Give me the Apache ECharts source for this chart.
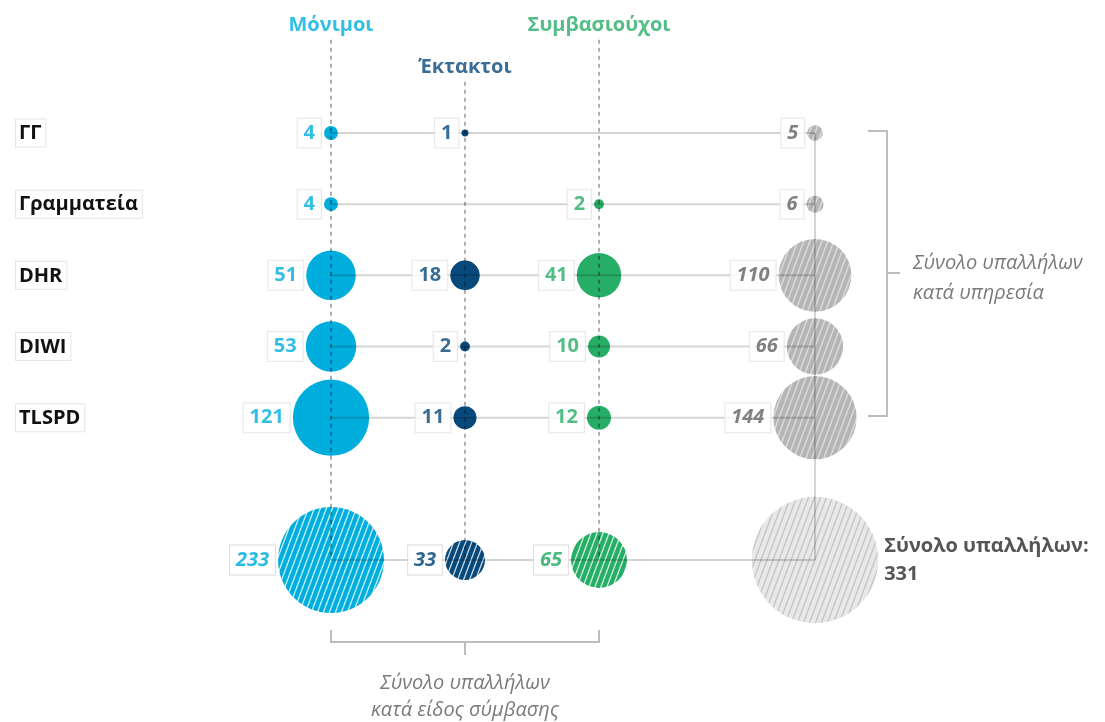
<!DOCTYPE html>
<html>
<head>
<meta charset="utf-8">
<script src="https://cdn.jsdelivr.net/npm/echarts@6/dist/echarts.min.js"></script>
<style>
  html, body { margin: 0; padding: 0; background: #fff; }
  #chart { width: 1105px; height: 722px; }
</style>
</head>
<body>
<div id="chart"></div>
<script>
  var rows = ['ΓΓ', 'Γραμματεία', 'DHR', 'DIWI', 'TLSPD'];
  var types = ['Μόνιμοι', 'Έκτακτοι', 'Συμβασιούχοι'];
  var monimoi = [4, 4, 51, 53, 121];
  var ektaktoi = [1, null, 18, 2, 11];
  var symvasiouxoi = [null, 2, 41, 10, 12];
  var rowTotals = [5, 6, 110, 66, 144];
  var typeTotals = [233, 33, 65];
  var grandTotal = 331;

  var colors = ['#00aede', '#08497b', '#27ae66'];
  var grey = '#a3a3a3';
  var font = "'Open Sans', sans-serif";
  var totalX = 3.612;          // total column sits further right
  var totalRow = 6;            // total row, after an empty gap
  var lineStart = -2.36;       // row lines start under the row names
  var guideTop = [-1.31, -0.72, -1.31];

  function size(v) { return 6.94 * Math.sqrt(v); }

  // diagonal hatch fill, counter-scaled so the symbol scaling doesn't stretch it
  function stripes(bg, fg, v) {
    var w = 6, h = 16;
    var c = document.createElement('canvas');
    c.width = w; c.height = h;
    var ctx = c.getContext('2d');
    ctx.fillStyle = bg;
    ctx.fillRect(0, 0, w, h);
    ctx.strokeStyle = fg;
    ctx.lineWidth = 1.3;
    [-w, 0, w].forEach(function (o) {
      ctx.beginPath(); ctx.moveTo(o, h); ctx.lineTo(o + w, 0); ctx.stroke();
    });
    var s = 2 / size(v);
    return { image: c, repeat: 'repeat', scaleX: s, scaleY: s };
  }

  function boxLabel(color, italic) {
    return {
      show: true, position: 'left', distance: 3,
      formatter: function (p) { return p.value[2]; },
      color: color, fontFamily: font, fontSize: 20, fontWeight: 'bold',
      fontStyle: italic ? 'italic' : 'normal',
      backgroundColor: '#fff', borderColor: '#e2e2e2', borderWidth: 1,
      padding: [4, 6, 3, 6], lineHeight: 22
    };
  }

  var columns = [monimoi, ektaktoi, symvasiouxoi];
  var series = [];

  columns.forEach(function (vals, k) {
    var data = [];
    vals.forEach(function (v, i) {
      if (v != null) data.push({ value: [k, i, v] });
    });
    data.push({ value: [k, totalRow, typeTotals[k]],
      itemStyle: { color: stripes(colors[k], 'rgba(255,255,255,0.8)', typeTotals[k]) },
      label: boxLabel(colors[k], true) });
    series.push({
      name: types[k], type: 'scatter', z: 2, clip: false, silent: true,
      symbolSize: function (d) { return size(d[2]); },
      itemStyle: { color: colors[k], opacity: 1 },
      data: data
    });
    series.push({
      name: types[k] + '-labels', type: 'scatter', z: 5, clip: false, silent: true,
      symbolSize: function (d) { return size(d[2]); },
      itemStyle: { color: 'rgba(0,0,0,0)' },
      label: boxLabel(colors[k], false),
      data: data.map(function (d) { return { value: d.value, label: d.label }; })
    });
  });

  // totals per row + grand total
  var totData = rowTotals.map(function (v, i) { return { value: [totalX, i, v] }; });
  var totItems = rowTotals.map(function (v, i) {
    return { value: [totalX, i, v],
      itemStyle: { color: stripes(grey, 'rgba(255,255,255,0.6)', v) } };
  }).concat([{ value: [totalX, totalRow, grandTotal],
    itemStyle: { color: stripes('#e3e3e3', '#b5b5b5', grandTotal) } }]);
  series.push({
    name: 'Σύνολο', type: 'scatter', z: 2, clip: false, silent: true,
    symbolSize: function (d) { return size(d[2]); },
    data: totItems
  });
  series.push({
    name: 'Σύνολο-labels', type: 'scatter', z: 5, clip: false, silent: true,
    symbolSize: function (d) { return size(d[2]); },
    itemStyle: { color: 'rgba(0,0,0,0)' },
    label: boxLabel('#626262', true),
    data: totData.concat([{ value: [totalX, totalRow, grandTotal],
      label: {
        show: true, position: 'right', distance: 6, align: 'left',
        formatter: 'Σύνολο υπαλλήλων:\n' + grandTotal,
        color: '#2b2b2b', fontFamily: font, fontSize: 20, fontWeight: 'bold',
        fontStyle: 'normal', lineHeight: 28, backgroundColor: 'transparent',
        borderWidth: 0, padding: 0
      } }])
  });

  // connector lines
  function seg(points, style) {
    series.push({
      type: 'line', z: 3, clip: false, silent: true, symbol: 'none',
      lineStyle: style, data: points, animation: false
    });
  }
  var solid = { color: 'rgba(0,0,0,0.17)', width: 2 };
  rows.forEach(function (r, i) { seg([[lineStart, i], [totalX, i]], solid); });
  seg([[0, totalRow], [totalX, totalRow]], solid);
  seg([[totalX, 0], [totalX, totalRow]], solid);
  types.forEach(function (t, k) {
    seg([[k, guideTop[k]], [k, totalRow]],
      { color: 'rgba(0,0,0,0.42)', width: 1.5, type: [4, 4] });
  });

  // column titles
  series.push({
    type: 'scatter', z: 5, clip: false, silent: true, symbolSize: 1,
    itemStyle: { color: 'rgba(0,0,0,0)' },
    data: types.map(function (t, k) {
      return { value: [k, guideTop[k]], name: t,
        label: { color: colors[k] } };
    }),
    label: {
      show: true, position: 'top', distance: 4,
      formatter: function (p) { return p.name; },
      fontFamily: font, fontSize: 20, fontWeight: 'bold'
    }
  });

  var chart = echarts.init(document.getElementById('chart'));
  chart.setOption({
    animation: false,
    backgroundColor: '#fff',
    textStyle: { fontFamily: font },
    grid: { left: 331, right: 290, top: 133, bottom: 162, outerBoundsMode: 'none' },
    xAxis: {
      type: 'value', min: 0, max: totalX, show: false
    },
    yAxis: {
      type: 'value', inverse: true, min: 0, max: totalRow, interval: 1,
      splitLine: { show: false }, axisLine: { show: false }, axisTick: { show: false },
      axisLabel: {
        align: 'left', margin: 315,
        formatter: function (v) { return rows[v] ? '{b|' + rows[v] + '}' : ''; },
        rich: {
          b: {
            color: '#111', fontFamily: font, fontSize: 20, fontWeight: 'bold',
            backgroundColor: '#fff', borderColor: '#e6e6e6', borderWidth: 1,
            padding: [4, 4, 3, 3], lineHeight: 22
          }
        }
      }
    },
    graphic: [
      { type: 'polyline', shape: { points: [[868, 131], [887, 131], [887, 416], [868, 416]] },
        style: { stroke: '#bdbdbd', lineWidth: 2, fill: null } },
      { type: 'line', shape: { x1: 887, y1: 273, x2: 900, y2: 273 },
        style: { stroke: '#bdbdbd', lineWidth: 2 } },
      { type: 'text', x: 913, y: 263, style: { text: 'Σύνολο υπαλλήλων', fill: '#7a7a7a',
        font: 'italic 20px ' + font, verticalAlign: 'middle' } },
      { type: 'text', x: 913, y: 293, style: { text: 'κατά υπηρεσία', fill: '#7a7a7a',
        font: 'italic 20px ' + font, verticalAlign: 'middle' } },
      { type: 'polyline', shape: { points: [[331, 630], [331, 642], [599, 642], [599, 630]] },
        style: { stroke: '#bdbdbd', lineWidth: 2, fill: null } },
      { type: 'line', shape: { x1: 465, y1: 642, x2: 465, y2: 655 },
        style: { stroke: '#bdbdbd', lineWidth: 2 } },
      { type: 'text', x: 465, y: 683, style: { text: 'Σύνολο υπαλλήλων', fill: '#7a7a7a',
        font: 'italic 20px ' + font, align: 'center', verticalAlign: 'middle' } },
      { type: 'text', x: 465, y: 710, style: { text: 'κατά είδος σύμβασης', fill: '#7a7a7a',
        font: 'italic 20px ' + font, align: 'center', verticalAlign: 'middle' } }
    ],
    series: series
  });
</script>
</body>
</html>
